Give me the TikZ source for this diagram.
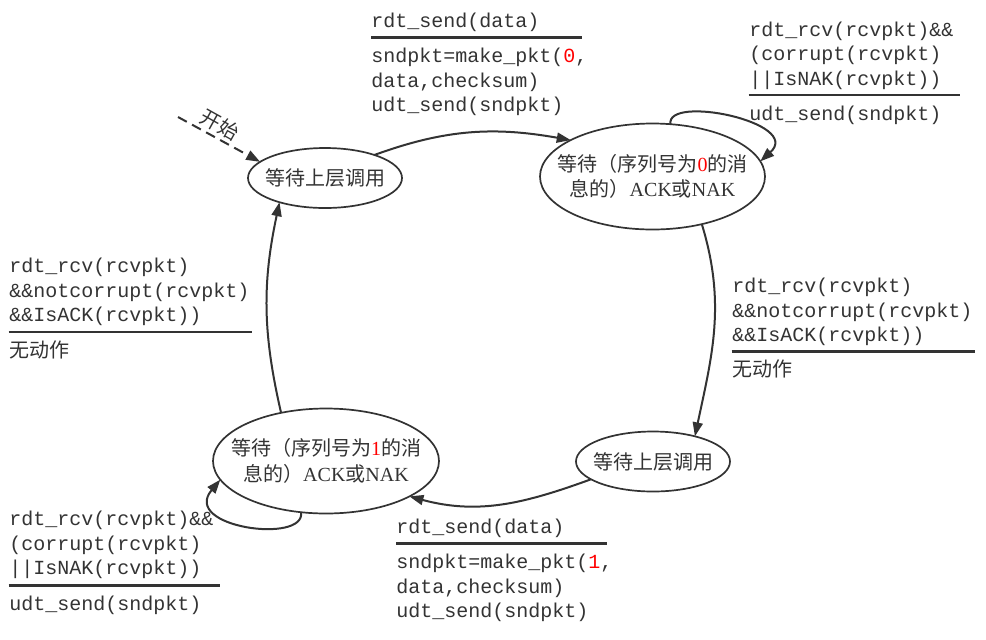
\documentclass[tikz,border=0pt]{standalone}
\usepackage{fontspec}
\setmainfont{Noto Sans CJK SC}
\newfontfamily\cjkf{Noto Sans CJK SC}
\newfontfamily\tnrf{Liberation Serif}
\newfontfamily\codef{Liberation Mono}
\usetikzlibrary{shapes.geometric,arrows.meta}
\definecolor{ink}{HTML}{333333}
\definecolor{hl}{HTML}{FF0000}
\newcommand\mylines[1]{\begin{tabular}[t]{@{}l@{}}#1\end{tabular}}
\begin{document}
\begin{tikzpicture}[x=0.5pt,y=0.5pt,
  state/.style={ellipse,draw=ink,line width=0.85pt,inner sep=0pt,outer sep=0pt},
  stxt/.style={font=\cjkf\fontsize{10}{12.75}\selectfont,text=ink,align=center,inner sep=0pt},
  trans/.style={draw=ink,line width=1pt,-{Triangle[length=7pt,width=5pt]}},
  code/.style={font=\codef\fontsize{10}{12.25}\selectfont,text=ink,inner sep=0pt,anchor=base west},
  cjk/.style={font=\cjkf\fontsize{10}{12}\selectfont,text=ink,inner sep=0pt,anchor=base west},
  rulel/.style={draw=ink,line width=1.25pt},
]
\useasboundingbox (0,0) rectangle (986,-639);

% states
\node[state,minimum width=77pt,minimum height=30pt] (A) at (325,-178) {};
\node[stxt] (At) at (A.center) {等待上层调用};
\node[state,minimum width=112.5pt,minimum height=53pt] (B) at (652.5,-176.5) {};
\node[stxt] (Bt) at (B.center) {等待（序列号为{\tnrf\color{hl}0}的消\\息的）{\tnrf ACK}或{\tnrf NAK}};
\node[state,minimum width=77pt,minimum height=30pt] (C) at (653,-461.5) {};
\node[stxt] (Ct) at (C.center) {等待上层调用};
\node[state,minimum width=113pt,minimum height=52.5pt] (D) at (326,-461) {};
\node[stxt] (Dt) at (D.center) {等待（序列号为{\tnrf\color{hl}1}的消\\息的）{\tnrf ACK}或{\tnrf NAK}};

% start
\coordinate (s0) at (178,-117);
\draw[trans,dash pattern=on 5pt off 3pt] (s0) -- (A.166);
\node[font=\cjkf\fontsize{10}{12}\selectfont,text=ink,inner sep=0pt,rotate=-29] (st) at (220,-125) {开始};

% transitions
\draw[trans] (A.25) to[out=20,in=170] (B.156);
\draw[trans] (B.71) .. controls +(-5,30) and +(43,39) .. (B.8);
\draw[trans] (B.-44) to[out=-73,in=78] (C.31);
\draw[trans] (C.196) to[out=200,in=-15] (D.-23);
\draw[trans] (D.-116) .. controls +(5,-32) and +(-40,-48) .. (D.190);
\draw[trans] (D.133) to[out=103,in=-102] (A.208);

% label 1 (top middle)
\node[code] (g1c) at (371,-27) {rdt\_send(data)};
\draw[rulel] (371,-37.5) -- (582,-37.5);
\node[code] (g1a) at (371,-62.5) {\mylines{sndpkt=make\_pkt({\color{hl}0},\\data,checksum)\\udt\_send(sndpkt)}};

% label 2 (top right)
\node[code] (g2c) at (749,-36) {\mylines{rdt\_rcv(rcvpkt)\&\&\\(corrupt(rcvpkt)\\||IsNAK(rcvpkt))}};
\draw[rulel] (748.5,-95) -- (960,-95);
\node[code] (g2a) at (749,-120) {udt\_send(sndpkt)};

% label 3 (right middle)
\node[code] (g3c) at (732,-292.5) {\mylines{rdt\_rcv(rcvpkt)\\\&\&notcorrupt(rcvpkt)\\\&\&IsACK(rcvpkt))}};
\draw[rulel] (731.5,-351.5) -- (975,-351.5);
\node[cjk] (g3a) at (732,-376.5) {无动作};

% label 4 (left middle)
\node[code] (g4c) at (9,-272.5) {\mylines{rdt\_rcv(rcvpkt)\\\&\&notcorrupt(rcvpkt)\\\&\&IsACK(rcvpkt))}};
\draw[rulel] (8.5,-332) -- (252,-332);
\node[cjk] (g4a) at (9,-357) {无动作};

% label 5 (bottom left)
\node[code] (g5c) at (9,-525.5) {\mylines{rdt\_rcv(rcvpkt)\&\&\\(corrupt(rcvpkt)\\||IsNAK(rcvpkt))}};
\draw[rulel] (8.5,-585.5) -- (220,-585.5);
\node[code] (g5a) at (9,-610.5) {udt\_send(sndpkt)};

% label 6 (bottom middle)
\node[code] (g6c) at (396,-533) {rdt\_send(data)};
\draw[rulel] (396,-543.5) -- (607,-543.5);
\node[code] (g6a) at (396,-568.5) {\mylines{sndpkt=make\_pkt({\color{hl}1},\\data,checksum)\\udt\_send(sndpkt)}};
\end{tikzpicture}
\end{document}
